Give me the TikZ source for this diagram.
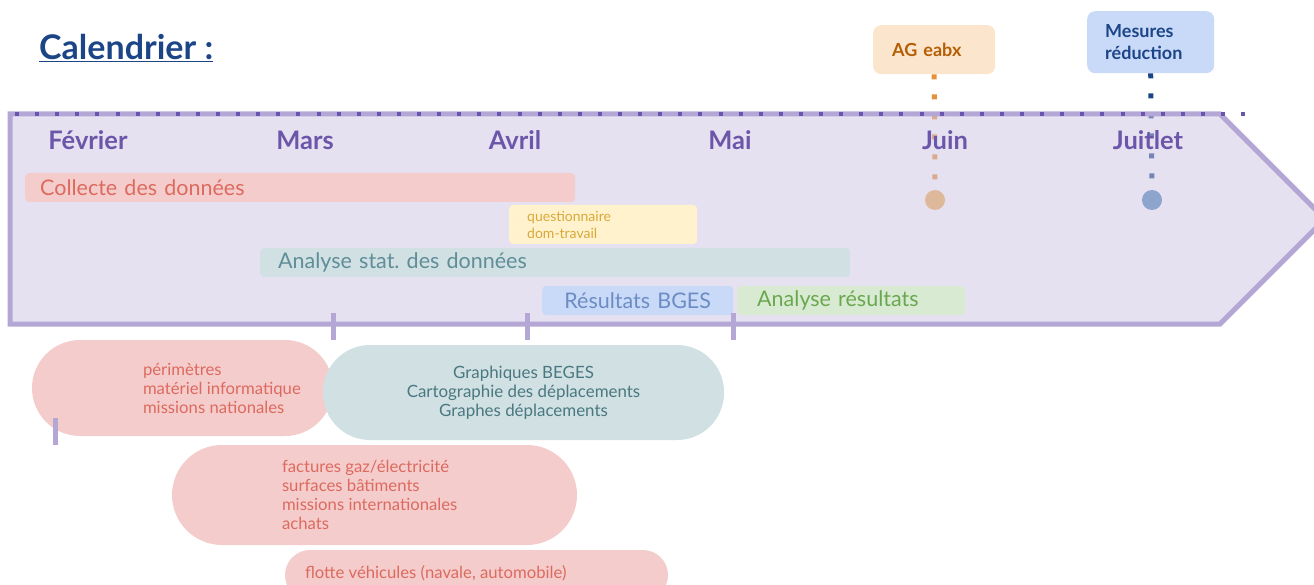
\documentclass[tikz,border=0pt]{standalone}
\usepackage{fontspec}
\setmainfont{Lato}
\usetikzlibrary{positioning}

\definecolor{lavfill}{HTML}{CDC3E1}
\definecolor{lavline}{HTML}{B4A7D6}
\definecolor{lavdot}{HTML}{6A55AE}
\definecolor{monthcol}{HTML}{6B56AA}
\definecolor{titlecol}{HTML}{1C4587}
\definecolor{redfill}{HTML}{F4CCCC}
\definecolor{redtext}{HTML}{DD6A5E}
\definecolor{tealfill}{HTML}{D0E0E3}
\definecolor{tealtext}{HTML}{5F8E98}
\definecolor{tealdark}{HTML}{4A7880}
\definecolor{yelfill}{HTML}{FFF2CC}
\definecolor{yeltext}{HTML}{D8A93A}
\definecolor{bluefill}{HTML}{C9DAF8}
\definecolor{bluetext}{HTML}{6D8CC4}
\definecolor{greenfill}{HTML}{D9EAD3}
\definecolor{greentext}{HTML}{6AA84F}
\definecolor{orgfill}{HTML}{FCE5CD}
\definecolor{orgtext}{HTML}{B45F06}
\definecolor{orgdot}{HTML}{E69138}
\definecolor{orgpt}{HTML}{F1AD53}
\definecolor{bluept}{HTML}{4D85B7}

\frenchspacing

\begin{document}
\begin{tikzpicture}[x=1pt, y=-1pt,
    bar/.style={rounded corners=4pt, inner ysep=0pt, minimum height=29pt, anchor=west,
      align=left, font=\fontsize{21.5}{25}\selectfont},
    pill/.style={rounded corners=#1, inner sep=0pt},
    pilltext/.style={inner sep=0pt, align=left, anchor=west, font=\fontsize{16.7}{19}\selectfont},
    note/.style={rounded corners=8pt, anchor=north west, align=left, inner ysep=0pt,
      font=\fontsize{18}{22}\selectfont\bfseries},
    month/.style={text=monthcol, inner sep=0pt, font=\fontsize{25.5}{28}\selectfont\bfseries},
    milestone/.style={circle, inner sep=0pt, minimum size=20pt},
    link/.style={line width=5pt, dash pattern=on 5pt off 15pt},
    tick/.style={lavline, line width=5pt},
  ]
  \useasboundingbox (0,0) rectangle (1314,585);

  % events above the timeline
  \node[note, fill=orgfill, text=orgtext, minimum width=122pt, minimum height=49pt,
    text width=84pt, inner xsep=19pt] (ageabx) at (873,25) {AG eabx};
  \node[note, fill=bluefill, text=titlecol, minimum width=127pt, minimum height=62pt,
    text width=91pt, inner xsep=18pt] (mesures) at (1087,11) {Mesures\\réduction};
  \node[milestone, fill=orgpt] (juinpt) at (935,200) {};
  \node[milestone, fill=bluept] (juilletpt) at (1152,200) {};
  \draw[link, orgdot] (ageabx.south) -- (juinpt.north);
  \draw[link, titlecol] (mesures.south) -- (juilletpt.north);

  % timeline arrow
  \draw[lavline, line width=5pt, fill=lavfill, fill opacity=0.5]
    (10,114) -- (1220,114) -- (1325,219) -- (1220,324) -- (10,324) -- cycle;
  \draw[lavdot, line width=4pt, dash pattern=on 4pt off 16.1pt] (15,114) -- (1247,114);

  % months
  \node[month] (fevrier) at (88,140) {Février};
  \node[month] (mars) at (305,140) {Mars};
  \node[month] (avril) at (515,140) {Avril};
  \node[month] (mai) at (730,140) {Mai};
  \node[month] (juin) at (945,140) {Juin};
  \node[month] (juillet) at (1148,140) {Juitlet};

  % tasks
  \node[bar, fill=redfill, text=redtext, text width=520pt, inner xsep=15pt]
    (collecte) at (25,187.5) {Collecte des données};
  \node[bar, fill=yelfill, text=yeltext, minimum height=39pt, text width=152pt, inner xsep=18pt,
    font=\fontsize{14}{17}\selectfont] (questionnaire) at (509,224.5) {questionnaire\\dom-travail};
  \node[bar, fill=tealfill, text=tealtext, text width=554pt, inner xsep=18pt]
    (analysestat) at (260,262.5) {Analyse stat. des données};
  \node[bar, fill=bluefill, text=bluetext, text width=171pt, inner xsep=10pt, align=center]
    (resultats) at (542,300.5) {Résultats BGES};
  \node[bar, fill=greenfill, text=greentext, text width=188pt, inner xsep=20pt]
    (analyseres) at (737,300.5) {Analyse résultats};

  % details
  \node[pill=48pt, fill=redfill, minimum width=301pt, minimum height=96pt] (perimetres) at (182.5,388) {};
  \node[pilltext, text=redtext] (perimtxt) at ([xshift=111pt]perimetres.west)
    {périmètres\\matériel informatique\\missions nationales};
  \node[pill=47pt, fill=tealfill, text=tealdark, minimum width=401pt, minimum height=95pt,
    align=center, font=\fontsize{16.9}{19}\selectfont] (graphiques) at (523.5,392.5)
    {Graphiques BEGES\\Cartographie des déplacements\\Graphes déplacements};
  \node[pill=50pt, fill=redfill, minimum width=405pt, minimum height=100pt] (factures) at (374.5,495) {};
  \node[pilltext, text=redtext] (facttxt) at ([xshift=110pt]factures.west)
    {factures gaz/électricité\\surfaces bâtiments\\missions internationales\\achats};
  \node[pill=25pt, fill=redfill, minimum width=383pt, minimum height=50pt] (flotte) at (476.5,575) {};
  \node[pilltext, text=redtext] (flottetxt) at ([xshift=20pt, yshift=2pt]flotte.west)
    {flotte véhicules (navale, automobile)};

  % ticks
  \draw[tick] (333,313) -- (333,340);
  \draw[tick] (527,313) -- (527,340);
  \draw[tick] (733,313) -- (733,340);
  \draw[tick] (55,418) -- (55,445);

  % title
  \node[anchor=west, inner sep=0pt, text=titlecol, font=\fontsize{34}{38}\selectfont\bfseries]
    (titre) at (39,48) {\underline{Calendrier :}};
\end{tikzpicture}
\end{document}
